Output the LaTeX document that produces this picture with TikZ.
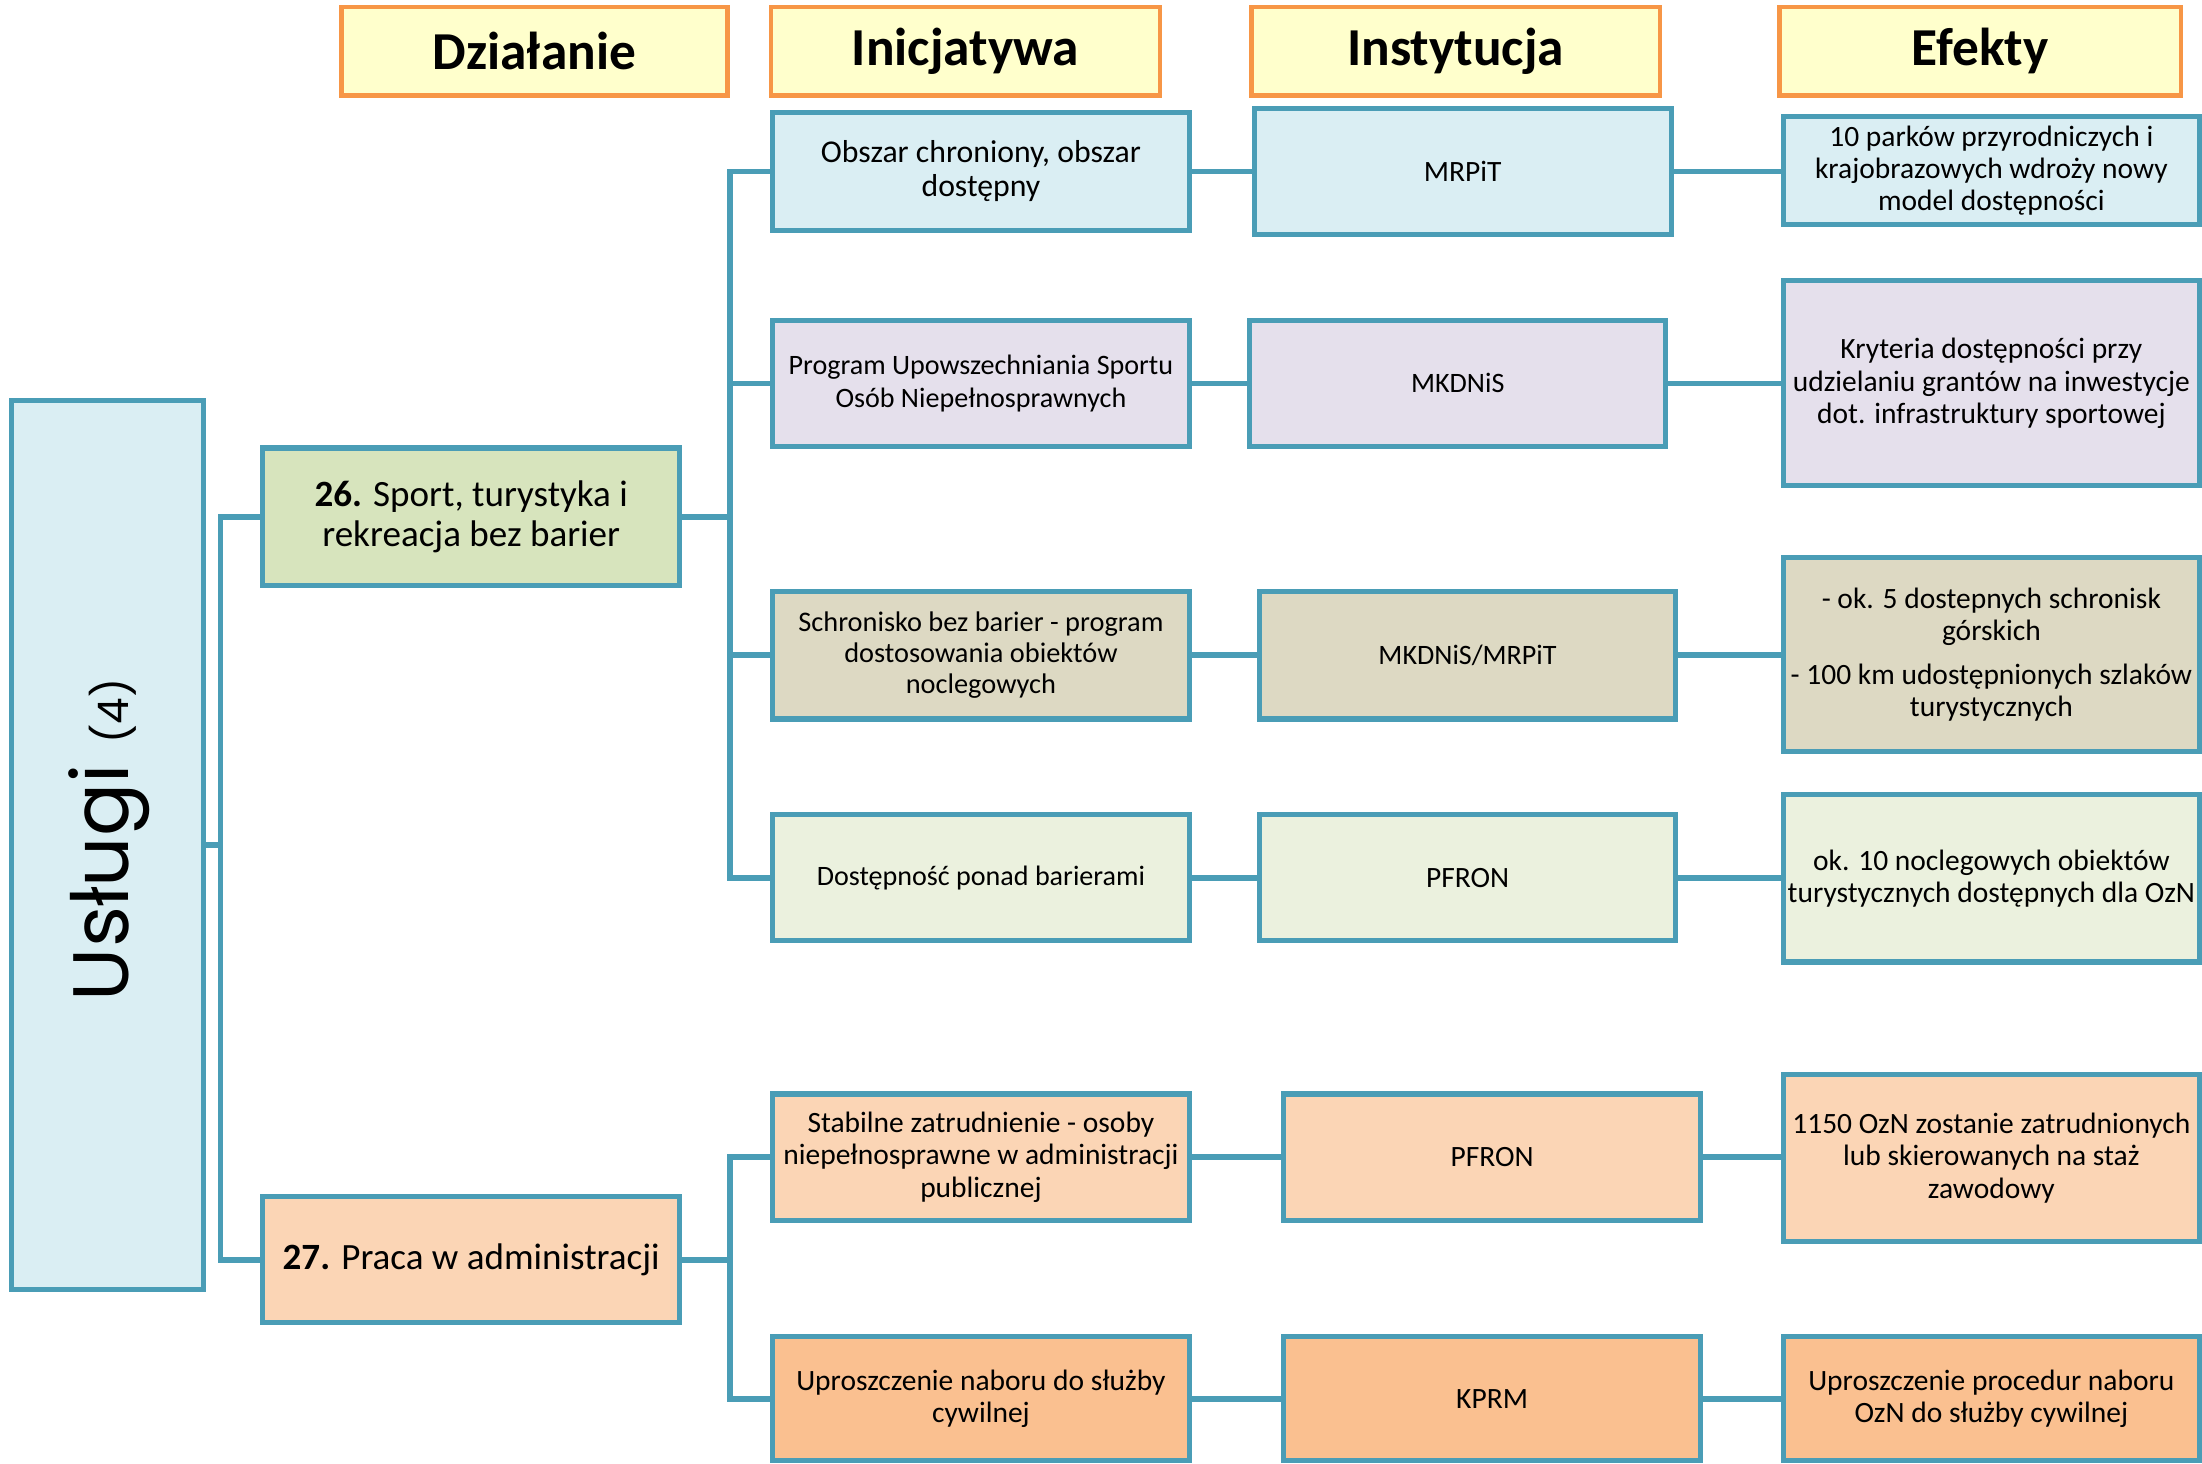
\documentclass[tikz,border=0pt]{standalone}
\usepackage{fontspec}
\setmainfont{Carlito}
\newfontfamily\gothic{Poppins}
\definecolor{teal}{HTML}{4A9DB6}
\definecolor{hdrfill}{HTML}{FFFFCC}
\definecolor{hdrline}{HTML}{F79646}
\definecolor{cBlue}{HTML}{DAEEF3}
\definecolor{cGreen}{HTML}{D7E4BD}
\definecolor{cLav}{HTML}{E5E0EC}
\definecolor{cTan}{HTML}{DDD9C3}
\definecolor{cPale}{HTML}{EBF1DE}
\definecolor{cPeach}{HTML}{FBD5B5}
\definecolor{cOrange}{HTML}{FAC090}
\tikzset{
  hdr/.style={draw=hdrline, fill=hdrfill, line width=1.6pt, inner sep=0pt,
    font=\fontsize{19}{22}\selectfont\bfseries},
  box/.style={draw=teal, line width=1.8pt, inner sep=1pt, align=center,
    font=\fontsize{10.5}{11.5}\selectfont},
  big/.style={font=\fontsize{13.2}{14.5}\selectfont},
  conn/.style={draw=teal, line width=2pt},
}
\newcommand{\hdrtext}[1]{\raisebox{-2pt}{#1}}
\begin{document}
\begin{tikzpicture}[x=0.5pt,y=-0.5pt]
\useasboundingbox (0,0) rectangle (1568,1042);
% headers
\node[hdr, minimum width=137.5pt, minimum height=31.5pt] (hDz) at (380.5,36.5) {\hdrtext{Działanie}};
\node[hdr, minimum width=138.5pt, minimum height=31.5pt] (hIn) at (687.5,36.5) {\hdrtext{Inicjatywa}};
\node[hdr, minimum width=145.5pt, minimum height=31.5pt] (hIs) at (1036.5,36.5) {\hdrtext{Instytucja}};
\node[hdr, minimum width=143pt, minimum height=31.5pt] (hEf) at (1410,36.5) {\hdrtext{Efekty}};
% main
\node[box, fill=cBlue, minimum width=68.5pt, minimum height=316.5pt] (U) at (76.5,601.5) {};
\node[rotate=90, font=\gothic\fontsize{28}{30}\selectfont] (Ut) at (78,598) {Usługi {\fontsize{15}{16}\selectfont (4)}};
% dzialanie
\node[box, big, fill=cGreen, minimum width=148.5pt, minimum height=49pt] (d26) at (335.5,368) {\textbf{26.} Sport, turystyka i\\rekreacja bez barier};
\node[box, big, fill=cPeach, minimum width=148.5pt, minimum height=45pt] (d27) at (335.5,897) {\textbf{27.} Praca w administracji};
% inicjatywa
\node[box, fill=cBlue, minimum width=148.5pt, minimum height=42pt, font=\fontsize{11.3}{12}\selectfont] (i1) at (698.5,122) {Obszar chroniony, obszar\\dostępny};
\node[box, fill=cLav, minimum width=148.5pt, minimum height=45pt, font=\fontsize{10}{11.5}\selectfont] (i2) at (698.5,273) {Program Upowszechniania Sportu\\Osób Niepełnosprawnych};
\node[box, fill=cTan, minimum width=148.5pt, minimum height=45.5pt, font=\fontsize{10.1}{11}\selectfont] (i3) at (698.5,466.5) {Schronisko bez barier - program\\dostosowania obiektów\\noclegowych};
\node[box, fill=cPale, minimum width=148.5pt, minimum height=45pt, font=\fontsize{10}{11}\selectfont] (i4) at (698.5,625) {Dostępność ponad barierami};
\node[box, fill=cPeach, minimum width=148.5pt, minimum height=45pt] (i5) at (698.5,824) {Stabilne zatrudnienie - osoby\\niepełnosprawne w administracji\\publicznej};
\node[box, fill=cOrange, minimum width=148.5pt, minimum height=44pt] (i6) at (698.5,996) {Uproszczenie naboru do służby\\cywilnej};
% instytucja
\node[box, fill=cBlue, minimum width=148.5pt, minimum height=45pt] (s1) at (1041.5,122) {MRPiT};
\node[box, fill=cLav, minimum width=148pt, minimum height=45pt, font=\fontsize{10}{11}\selectfont] (s2) at (1038,273) {MKDNiS};
\node[box, fill=cTan, minimum width=148pt, minimum height=45.5pt, font=\fontsize{10}{11}\selectfont] (s3) at (1045,466.5) {MKDNiS/MRPiT};
\node[box, fill=cPale, minimum width=148pt, minimum height=45pt] (s4) at (1045,625) {PFRON};
\node[box, fill=cPeach, minimum width=148.5pt, minimum height=45pt] (s5) at (1062.5,824) {PFRON};
\node[box, fill=cOrange, minimum width=148.5pt, minimum height=44pt] (s6) at (1062.5,996) {KPRM};
% efekty
\node[box, fill=cBlue, minimum width=148pt, minimum height=38.5pt] (e1) at (1418,121.5) {10 parków przyrodniczych i\\krajobrazowych wdroży nowy\\model dostępności};
\node[box, fill=cLav, minimum width=148pt, minimum height=73pt] (e2) at (1418,273) {Kryteria dostępności przy\\udzielaniu grantów na inwestycje\\dot. infrastruktury sportowej};
\node[box, fill=cTan, minimum width=148pt, minimum height=69pt] (e3) at (1418,466) {- ok. 5 dostepnych schronisk\\górskich\\[4pt]- 100 km udostępnionych szlaków\\turystycznych};
\node[box, fill=cPale, minimum width=148pt, minimum height=59.5pt] (e4) at (1418,625.5) {ok. 10 noclegowych obiektów\\turystycznych dostępnych dla OzN};
\node[box, fill=cPeach, minimum width=148pt, minimum height=59.5pt] (e5) at (1418,824.5) {1150 OzN zostanie zatrudnionych\\lub skierowanych na staż\\zawodowy};
\node[box, fill=cOrange, minimum width=148pt, minimum height=44pt] (e6) at (1418,996) {Uproszczenie procedur naboru\\OzN do służby cywilnej};
% connectors
\coordinate (b0) at (157,601.5);
\coordinate (b1) at (520,368);
\coordinate (b2) at (520,897);
\draw[conn] (U.east) -- (b0);
\draw[conn] (d26.west) -| (b0);
\draw[conn] (d27.west) -| (b0);
\draw[conn] (d26.east) -- (b1);
\foreach \n in {i1,i2,i3,i4} \draw[conn] (\n.west) -| (b1);
\draw[conn] (d27.east) -- (b2);
\foreach \n in {i5,i6} \draw[conn] (\n.west) -| (b2);
\foreach \a/\b in {i1/s1,i2/s2,i3/s3,i4/s4,i5/s5,i6/s6} \draw[conn] (\a.east) -- (\b.west);
\foreach \a/\b in {s1/e1,s2/e2,s3/e3,s4/e4,s5/e5,s6/e6} \draw[conn] (\a.east) -- (\b.west |- \a.east);
\end{tikzpicture}
\end{document}
